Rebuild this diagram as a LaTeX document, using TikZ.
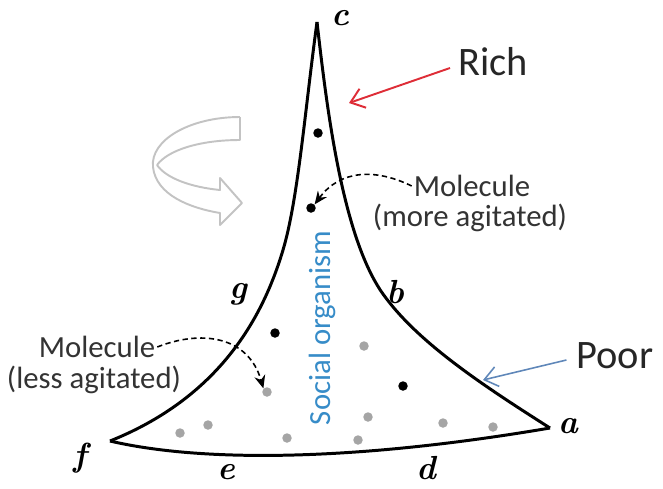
\documentclass[tikz,border=0pt]{standalone}
\usepackage{fontspec}
\newfontfamily\calibri{Carlito}
\usetikzlibrary{arrows.meta}
\definecolor{richRed}{RGB}{222,45,55}
\definecolor{poorBlue}{RGB}{95,135,185}
\definecolor{orgBlue}{RGB}{55,140,200}
\definecolor{dotGray}{RGB}{165,165,165}
\definecolor{curlGray}{RGB}{195,195,195}

\begin{document}
\begin{tikzpicture}[x=0.02cm,y=-0.02cm,
  edge/.style={line width=1.7pt,line join=round},
  vlabel/.style={font=\bfseries\itshape\fontsize{19}{19}\selectfont,inner sep=0pt},
  hot/.style={circle,fill=black,minimum size=0.19cm,inner sep=0pt},
  cold/.style={circle,fill=dotGray,minimum size=0.19cm,inner sep=0pt},
  note/.style={font=\calibri\fontsize{17.5}{21}\selectfont,text=black!80,inner sep=1pt},
  big/.style={font=\calibri\fontsize{23}{26}\selectfont,text=black!85},
  darr/.style={-{Stealth[length=2.6mm,width=2.2mm]},
               dash pattern=on 3pt off 2pt,line width=0.9pt},
  richarr/.style={-{Straight Barb[length=2.6mm,width=4mm]},richRed,line width=1.1pt},
  poorarr/.style={-{Straight Barb[length=2.6mm,width=4mm]},poorBlue,line width=0.9pt},
  curl/.style={curlGray,line width=1.1pt,line join=round},
]
  \useasboundingbox (0,0) rectangle (663,488);
  \clip (0,0) rectangle (663,488);

  % the curved triangle
  \coordinate (c) at (317,22);
  \coordinate (f) at (110,441);
  \coordinate (a) at (550,428);
  \draw[edge] (c) .. controls (305,110) and (298,200) .. (283,250)
                  .. controls (265,310) and (225,395) .. (f);
  \draw[edge] (c) .. controls (327,110) and (342.5,237) .. (383,294)
                  .. controls (418,343) and (484,386) .. (a);
  \draw[edge] (f) .. controls (200,462) and (350,462) .. (a);

  \node[vlabel] (lc) at (340,18) {c};
  \node[vlabel] (lg) at (238,294) {g};
  \node[vlabel] (lb) at (395,292) {b};
  \node[vlabel] (la) at (568,426) {a};
  \node[vlabel] (ld) at (426,468) {d};
  \node[vlabel] (le) at (226,472) {e};
  \node[vlabel] (lf) at (80,458) {f};

  % molecules
  \node[hot] (m1) at (318,133) {};
  \node[hot] (m2) at (311,208) {};
  \node[hot] (m3) at (275,333) {};
  \node[hot] (m4) at (403,386) {};
  \foreach \p [count=\i] in {(180,433),(208,425),(267,392),(287,438),(364,346),
                             (368,417),(358,440),(443,423),(493,427)}
    \node[cold] (g\i) at \p {};

  \node[font=\calibri\fontsize{17.5}{21}\selectfont,text=orgBlue,rotate=90]
    (org) at (322,328) {Social organism};

  \node[note] (molA) at (472,186) {Molecule};
  \node[note] (molAx) at (470,218) {(more agitated)};
  \node[note] (molB) at (97,347) {Molecule};
  \node[note] (molBx) at (94,380) {(less agitated)};
  \draw[darr] (molA.west) .. controls (375,168) and (340,170) .. (m2.north east);
  \draw[darr] (molB.east) .. controls (200,330) and (248,335) .. (g3.north west);

  \node[big] (rich) at (493,62) {Rich};
  \node[big] (poor) at (615,356) {Poor};
  \coordinate (richtip) at (349,103);
  \coordinate (poortip) at (483,380);
  \draw[richarr] (rich.west) ++(-2,6) -- (richtip);
  \draw[poorarr] (poor.west) ++(-4,4) -- (poortip);

  % curled arrow
  \draw[curl] (240,117) -- (240,140) .. controls (200,140) and (168,150) .. (157,165);
  \draw[curl] (240,117) .. controls (190,117) and (150,140) .. (153,167)
    .. controls (156,195) and (190,208) .. (220,213) -- (220,225) -- (242,203)
    -- (220,178) -- (220,190) .. controls (190,187) and (166,178) .. (157,165);
\end{tikzpicture}
\end{document}
